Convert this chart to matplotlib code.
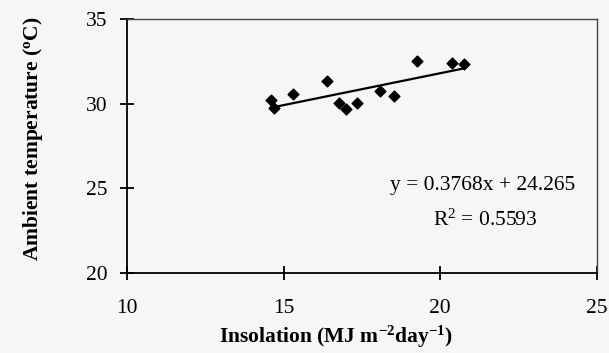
import matplotlib
matplotlib.use("Agg")
import matplotlib.pyplot as plt
import numpy as np

# values
insolation = [14.59, 14.69, 15.29, 16.40, 16.78, 16.98, 17.35, 18.08, 18.53, 19.27, 20.37, 20.77]
temperature = [30.22, 29.72, 30.57, 31.36, 30.06, 29.66, 30.06, 30.75, 30.47, 32.52, 32.42, 32.32]
slope, intercept = 0.3768, 24.265
r_squared = 0.5593

x_ticks = [10, 15, 20, 25]
y_ticks = [20, 25, 30, 35]

plt.rcParams.update(
    {
        "font.family": "Liberation Serif",
        "font.size": 15.5,
        "mathtext.fontset": "custom",
        "mathtext.rm": "Liberation Serif",
        "mathtext.it": "Liberation Serif",
        "mathtext.bf": "Liberation Serif:bold",
    }
)

fig = plt.figure(figsize=(6.09, 3.53), dpi=100)
fig.patch.set_facecolor("#f6f6f6")
ax = fig.add_axes([0.2085, 0.2266, 0.7715, 0.7194])
ax.set_facecolor("#f6f6f6")

ax.scatter(insolation, temperature, marker="D", s=30, color="black", zorder=3)
xs = np.array([min(insolation), max(insolation)])
ax.plot(xs, slope * xs + intercept, color="black", lw=1.6)

ax.set_xlim(10, 25)
ax.set_ylim(20, 35)
ax.set_xticks(x_ticks)
ax.set_yticks(y_ticks)
ax.tick_params(axis="x", direction="inout", length=10, width=1.3, pad=14, labelsize=15.5)
ax.tick_params(axis="y", direction="inout", length=10, width=1.3, pad=9, labelsize=15.5)

for side in ["left", "bottom"]:
    ax.spines[side].set_linewidth(1.3)
    ax.spines[side].set_color("black")
for side in ["top", "right"]:
    ax.spines[side].set_linewidth(1.0)
    ax.spines[side].set_color("#444444")

ax.text(0.757, 0.346, f"y = {slope}x + {intercept}", transform=ax.transAxes,
        ha="center", va="center", fontsize=15.5)
ax.text(0.762, 0.209, f"R$^2$ = {r_squared}", transform=ax.transAxes,
        ha="center", va="center", fontsize=15.5)

ax.set_xlabel(r"Insolation (MJ m$^{\mathbf{-2}}$day$^{\mathbf{-1}}$)",
              fontweight="bold", fontsize=15.5)
ax.xaxis.set_label_coords(0.445, -0.2)
ax.set_ylabel(r"Ambient temperature ($^{\mathbf{o}}$C)", fontweight="bold", fontsize=15.5)
ax.yaxis.set_label_coords(-0.175, 0.53)

fig.savefig("out.png", dpi=100, facecolor=fig.get_facecolor())
